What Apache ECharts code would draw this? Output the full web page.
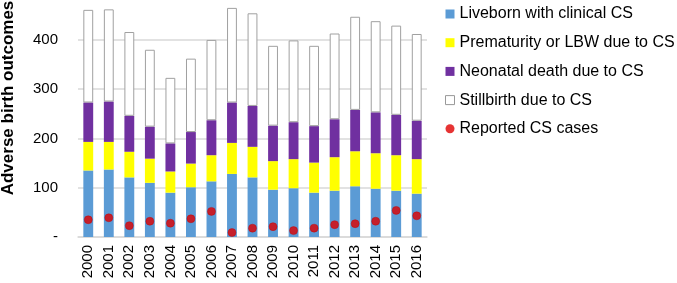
<!DOCTYPE html>
<html>
<head>
<meta charset="utf-8">
<script src="https://cdn.jsdelivr.net/npm/echarts@6/dist/echarts.min.js"></script>
<style>
  html, body { margin: 0; padding: 0; background: #fff; }
  #chart { width: 677px; height: 283px; }
</style>
</head>
<body>
<div id="chart"></div>
<script>
// --- data ---
const years = ['2000', '2001', '2002', '2003', '2004', '2005', '2006', '2007', '2008',
    '2009', '2010', '2011', '2012', '2013', '2014', '2015', '2016'];
const liveborn = [135, 137, 121, 110, 90, 101, 113, 128, 121, 96, 99, 90, 94, 103, 98, 94, 88];
const prematurity = [58, 56, 52, 49, 43, 48, 53, 63, 62, 58, 59, 61, 68, 71, 72, 72, 70];
const neonatal = [80, 82, 73, 65, 57, 64, 71, 82, 83, 72, 75, 74, 77, 84, 83, 82, 78];
const stillbirth = [188, 187, 170, 156, 133, 149, 163, 192, 188, 162, 166, 163, 174, 189, 185, 181, 176];
const reported = [35, 39, 23, 32, 28, 37, 52, 9, 18, 21, 13, 18, 25, 27, 32, 54, 43];
const yTicks = [0, 100, 200, 300, 400];

const font = 'Liberation Sans, Arial, sans-serif';
const chart = echarts.init(document.getElementById('chart'));

const stackBar = (name, data, style) => ({
    name: name,
    type: 'bar',
    stack: 'total',
    barWidth: '48%',
    data: data,
    itemStyle: style
});

chart.setOption({
    animation: false,
    textStyle: { fontFamily: font },
    grid: { left: 78, right: 250, top: 0, bottom: 46 },
    legend: {
        orient: 'vertical',
        left: 440,
        top: 1,
        itemWidth: 9,
        itemHeight: 9,
        itemGap: 12.7,
        textStyle: { fontFamily: font, fontSize: 16, color: '#000' },
        data: [
            { name: 'Liveborn with clinical CS', icon: 'rect' },
            { name: 'Prematurity or LBW due to CS', icon: 'rect' },
            { name: 'Neonatal death due to CS', icon: 'rect' },
            { name: 'Stillbirth due to CS', icon: 'rect',
              itemStyle: { color: '#fff', borderColor: '#999', borderWidth: 1 } },
            { name: 'Reported CS cases', icon: 'circle', itemStyle: { color: '#e00000', borderWidth: 0 } }
        ]
    },
    xAxis: {
        type: 'category',
        data: years,
        axisLine: { lineStyle: { color: '#d9d9d9', width: 1.5 } },
        axisTick: { show: false },
        axisLabel: { rotate: 90, fontSize: 15, color: '#000', margin: 8, fontFamily: font }
    },
    yAxis: {
        type: 'value',
        min: 0,
        max: 481,
        interval: 100,
        axisLine: { show: false },
        axisTick: { show: false },
        splitLine: { showMaxLine: false, lineStyle: { color: '#d9d9d9', width: 1.5 } },
        axisLabel: {
            fontSize: 15, color: '#000', margin: 20, fontFamily: font,
            formatter: v => (v === 0 ? '-' : (yTicks.indexOf(v) >= 0 ? String(v) : ''))
        }
    },
    graphic: [{
        type: 'text',
        x: 8,
        y: 98,
        rotation: Math.PI / 2,
        style: {
            text: 'Adverse birth outcomes',
            font: 'bold 17px ' + font,
            fill: '#000',
            align: 'center',
            verticalAlign: 'middle'
        }
    }],
    series: [
        stackBar('Liveborn with clinical CS', liveborn, { color: '#5b9bd5' }),
        stackBar('Prematurity or LBW due to CS', prematurity, { color: '#ffff00' }),
        stackBar('Neonatal death due to CS', neonatal, { color: '#7030a0' }),
        stackBar('Stillbirth due to CS', stillbirth, { color: '#fff', borderColor: '#a0a0a0', borderWidth: 1 }),
        {
            name: 'Reported CS cases',
            type: 'scatter',
            data: reported,
            symbolSize: 8,
            z: 5,
            itemStyle: { color: '#e00000', borderColor: '#c00000', borderWidth: 0.5 }
        }
    ]
});
window.addEventListener('resize', () => chart.resize());
</script>
</body>
</html>
